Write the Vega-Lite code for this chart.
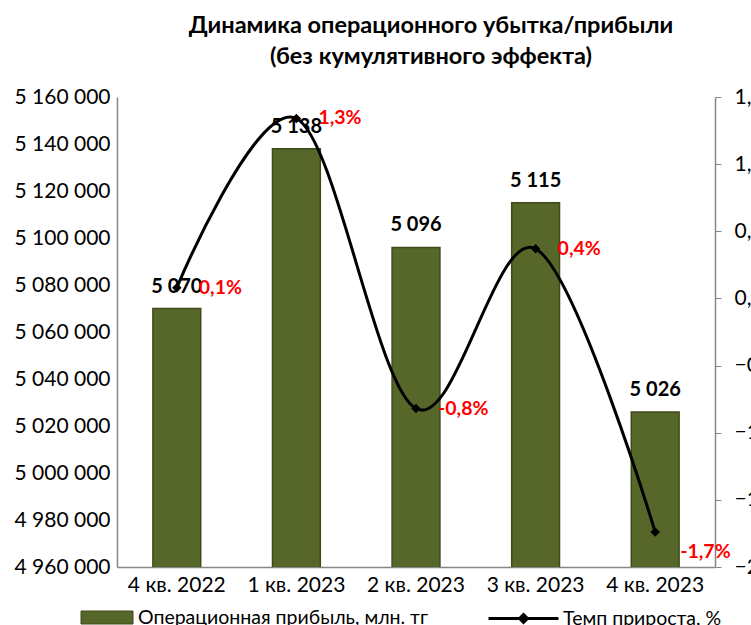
{
  "$schema": "https://vega.github.io/schema/vega-lite/v6.json",
  "autosize": {"type": "none"},
  "width": 598,
  "height": 470,
  "padding": {"left": 117, "top": 97, "right": 36, "bottom": 58},
  "background": "white",
  "title": {
    "text": ["Динамика операционного убытка/прибыли", "(без кумулятивного эффекта)"],
    "font": "Lato",
    "fontSize": 23.5,
    "fontWeight": "bold",
    "color": "#000000",
    "anchor": "middle",
    "dx": 15,
    "lineHeight": 31,
    "offset": 18
  },
  "config": {
    "view": {"stroke": null},
    "font": "Lato",
    "locale": {
      "number": {"decimal": ",", "thousands": " ", "grouping": [3], "currency": ["", ""]}
    },
    "axis": {
      "labelFont": "Lato",
      "labelFontSize": 21,
      "labelColor": "#000000",
      "domainColor": "#868686",
      "domainWidth": 1.5,
      "tickColor": "#868686",
      "grid": false,
      "title": null
    },
    "legend": {"labelFont": "Lato", "labelFontSize": 19.5, "labelColor": "#000000", "padding": 0, "labelLimit": 500}
  },
  "data": {
    "values": [
      {"q": "4 кв. 2022", "value": 5070000, "label": "5 070", "pct": 0.08, "pctLabel": "0,1%"},
      {"q": "1 кв. 2023", "value": 5138000, "label": "5 138", "pct": 1.34, "pctLabel": "1,3%"},
      {"q": "2 кв. 2023", "value": 5096000, "label": "5 096", "pct": -0.82, "pctLabel": "-0,8%"},
      {"q": "3 кв. 2023", "value": 5115000, "label": "5 115", "pct": 0.37, "pctLabel": "0,4%"},
      {"q": "4 кв. 2023", "value": 5026000, "label": "5 026", "pct": -1.74, "pctLabel": "-1,7%"}
    ]
  },
  "encoding": {
    "x": {
      "field": "q",
      "type": "nominal",
      "sort": null,
      "scale": {"paddingInner": 0, "paddingOuter": 0},
      "axis": {"labelAngle": 0, "ticks": false, "labelPadding": 7, "domainColor": "#868686"}
    }
  },
  "layer": [
    {
      "encoding": {
        "y": {
          "field": "value",
          "type": "quantitative",
          "scale": {"domain": [4960000, 5160000], "zero": false, "nice": false},
          "axis": {
            "orient": "left",
            "values": [4960000, 4980000, 5000000, 5020000, 5040000, 5060000, 5080000, 5100000, 5120000, 5140000, 5160000],
            "format": ",.0f",
            "ticks": false,
            "labelPadding": 7
          }
        }
      },
      "layer": [
        {
          "mark": {"type": "bar", "clip": true, "width": {"band": 0.4}, "stroke": "#3f4b1b", "strokeWidth": 1.5},
          "encoding": {
            "fill": {
              "datum": "Операционная прибыль, млн. тг",
              "scale": {"range": ["#57672a"]},
              "legend": {
                "orient": "none",
                "legendX": -23.5,
                "legendY": 507,
                "title": null,
                "symbolType": "M-2,-0.5H2V0.5H-2Z",
                "symbolSize": 676,
                "symbolStrokeColor": "#3f4b1b",
                "symbolStrokeWidth": 1,
                "labelOffset": 17.5
              }
            }
          }
        },
        {
          "mark": {"type": "text", "fontWeight": "bold", "fontSize": 20, "baseline": "bottom", "dy": -12, "color": "#000000"},
          "encoding": {"text": {"field": "label"}}
        }
      ]
    },
    {
      "encoding": {
        "y": {
          "field": "pct",
          "type": "quantitative",
          "scale": {"domain": [-2, 1.5], "zero": false, "nice": false},
          "axis": {
            "orient": "right",
            "values": [-2, -1.5, -1, -0.5, 0, 0.5, 1, 1.5],
            "format": ".1f",
            "tickSize": 6,
            "labelPadding": 13
          }
        }
      },
      "layer": [
        {
          "mark": {"type": "line", "interpolate": "cardinal", "strokeWidth": 3},
          "encoding": {
            "stroke": {
              "datum": "Темп прироста, %",
              "scale": {"range": ["#000000"]},
              "legend": {
                "orient": "none",
                "legendX": 391,
                "legendY": 506,
                "title": null,
                "symbolType": "M-2.5,0H2.5M0,-0.28L0.28,0L0,0.28L-0.28,0Z",
                "symbolSize": 784,
                "symbolStrokeWidth": 3,
                "symbolFillColor": "#000000",
                "labelOffset": 24
              }
            }
          }
        },
        {
          "mark": {"type": "point", "shape": "diamond", "filled": true, "size": 90, "color": "#000000", "opacity": 1}
        },
        {
          "transform": [{"filter": "datum.pct > -1.5"}],
          "mark": {"type": "text", "fontWeight": "bold", "fontSize": 19.5, "align": "left", "baseline": "middle", "dx": 22, "color": "#ff0000"},
          "encoding": {"text": {"field": "pctLabel"}}
        },
        {
          "transform": [{"filter": "datum.pct <= -1.5"}],
          "mark": {"type": "text", "fontWeight": "bold", "fontSize": 19.5, "align": "left", "baseline": "middle", "dx": 25, "dy": 20, "color": "#ff0000"},
          "encoding": {"text": {"field": "pctLabel"}}
        }
      ]
    }
  ],
  "resolve": {"scale": {"y": "independent"}}
}
